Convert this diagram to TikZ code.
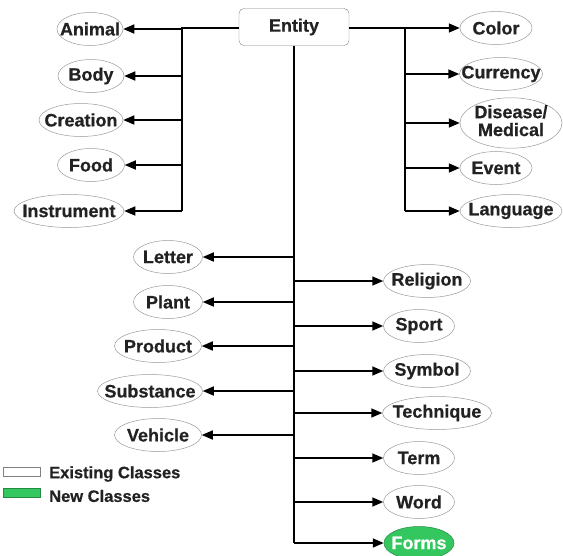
\documentclass[tikz,border=0pt]{standalone}
\usepackage{fontspec}
\setmainfont{Liberation Sans}[BoldFeatures={FakeBold=0.6}]
\usetikzlibrary{shapes.geometric,arrows.meta}

\definecolor{newgreen}{RGB}{52,199,96}
\definecolor{txtgray}{RGB}{34,34,34}

% text that does not widen its ellipse
\newcommand{\cname}[1]{\makebox[0pt]{#1}}

\tikzset{
  lbl/.style={font=\bfseries\fontsize{18}{16}\selectfont, text=txtgray},
  keylbl/.style={font=\bfseries\fontsize{16.5}{18}\selectfont, text=txtgray},
  cls/.style={lbl, ellipse, draw=gray!80, line width=0.5pt, inner sep=0pt, minimum height=33pt},
  newcls/.style={cls, fill=newgreen, draw=newgreen!70!black, text=white},
  bus/.style={line width=1.6pt},
  link/.style={bus, -{Triangle[length=11pt,width=9pt]}},
}

\begin{document}
\begin{tikzpicture}[x=1pt,y=-1pt]
    \useasboundingbox (0,0) rectangle (563,555);

    \node[lbl, draw=gray, rounded corners=5pt, minimum width=110pt, minimum height=37pt] (entity) at (294,27) {Entity};

    % left of the root
    \node[cls, minimum width=66pt] (animal) at (90,29) {\cname{Animal}};
    \node[cls, minimum width=66pt] (body) at (91,76) {\cname{Body}};
    \node[cls, minimum width=84pt] (creation) at (81,120) {\cname{Creation}};
    \node[cls, minimum width=67pt] (food) at (91,165) {\cname{Food}};
    \node[cls, minimum width=110pt] (instrument) at (69,211) {\cname{Instrument}};

    % right of the root
    \node[cls, minimum width=72pt] (color) at (496,28) {\cname{Color}};
    \node[cls, minimum width=83pt] (currency) at (501,74) {\cname{Currency}};
    \node[cls, minimum width=102pt, minimum height=47pt] (disease) at (511,123)
        {\cname{\begin{tabular}{@{}c@{}}Disease/\\Medical\end{tabular}}};
    \node[cls, minimum width=72pt] (event) at (496,168) {\cname{Event}};
    \node[cls, minimum width=102pt] (language) at (511,211) {\cname{Language}};

    % lower left
    \node[cls, minimum width=69pt] (letter) at (168,257) {\cname{Letter}};
    \node[cls, minimum width=69pt] (plant) at (168,302) {\cname{Plant}};
    \node[cls, minimum width=87pt] (product) at (158,346) {\cname{Product}};
    \node[cls, minimum width=105pt] (substance) at (150,391) {\cname{Substance}};
    \node[cls, minimum width=87pt] (vehicle) at (158,435) {\cname{Vehicle}};

    % lower right
    \node[cls, minimum width=87pt] (religion) at (427,281) {\cname{Religion}};
    \node[cls, minimum width=71pt] (sport) at (419,326) {\cname{Sport}};
    \node[cls, minimum width=87pt] (symbol) at (427,371) {\cname{Symbol}};
    \node[cls, minimum width=109pt] (technique) at (437,413) {\cname{Technique}};
    \node[cls, minimum width=71pt] (term) at (419,458) {\cname{Term}};
    \node[cls, minimum width=71pt] (word) at (419,502) {\cname{Word}};
    \node[newcls, minimum width=70pt] (forms) at (419,543) {\cname{Forms}};

    % connectors
    \coordinate (lbus) at (182,28);
    \coordinate (rbus) at (405,28);
    \draw[bus] (entity.west |- lbus) -- (lbus) -- (lbus |- instrument);
    \draw[bus] (entity.east |- rbus) -- (rbus) -- (rbus |- language);
    \draw[bus] (entity) -- (entity |- forms);
    \foreach \n in {animal,body,creation,food,instrument}
        \draw[link] (lbus |- \n) -- (\n);
    \foreach \n in {color,currency,disease,event,language}
        \draw[link] (rbus |- \n) -- (\n);
    \foreach \n in {letter,plant,product,substance,vehicle,religion,sport,symbol,technique,term,word,forms}
        \draw[link] (entity |- \n) -- (\n);

    % legend
    \node[draw=gray, fill=white, minimum width=37pt, minimum height=9pt, inner sep=0pt] (oldkey) at (21.5,472) {};
    \node[draw=newgreen!70!black, fill=newgreen, minimum width=37pt, minimum height=9pt, inner sep=0pt] (newkey) at (21.5,493) {};
    \node[keylbl, anchor=west, inner sep=0pt] (oldtxt) at (49,474) {Existing Classes};
    \node[keylbl, anchor=west, inner sep=0pt] (newtxt) at (49,496) {New Classes};
\end{tikzpicture}
\end{document}
